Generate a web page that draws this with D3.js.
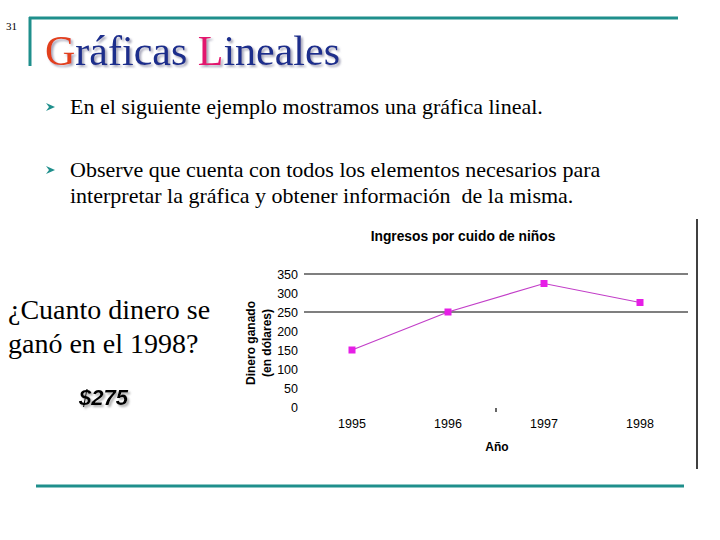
<!DOCTYPE html>
<html>
<head>
<meta charset="utf-8">
<script src="https://cdn.jsdelivr.net/npm/d3@7"></script>
<style>
  body { margin: 0; background: #fff; }
  svg { display: block; }
</style>
</head>
<body>
<script>
// chart data
const years = ["1995", "1996", "1997", "1998"];
const dinero = [150, 250, 325, 275];
const yTicks = [0, 50, 100, 150, 200, 250, 300, 350];
const gridValues = [250, 350];

const svg = d3.select("body").append("svg")
    .attr("width", 720).attr("height", 540);

//drop shadows for the title and the answer
const defs = svg.append("defs");
defs.append("filter").attr("id", "shadowTitle").attr("x", "-5%").attr("y", "-20%")
    .attr("width", "120%").attr("height", "150%")
    .append("feDropShadow").attr("dx", 2).attr("dy", 2).attr("stdDeviation", 0.8)
    .attr("flood-color", "#9090a8").attr("flood-opacity", 0.8);
defs.append("filter").attr("id", "shadowAns").attr("x", "-10%").attr("y", "-20%")
    .attr("width", "130%").attr("height", "160%")
    .append("feDropShadow").attr("dx", 2).attr("dy", 2).attr("stdDeviation", 1)
    .attr("flood-color", "#888").attr("flood-opacity", 0.7);

//slide frame lines (teal)
const teal = "#1f8f8c";
svg.append("line").attr("x1", 29).attr("x2", 678).attr("y1", 18).attr("y2", 18)
    .attr("stroke", teal).attr("stroke-width", 3);
svg.append("line").attr("x1", 30).attr("x2", 30).attr("y1", 17).attr("y2", 66)
    .attr("stroke", teal).attr("stroke-width", 3);
svg.append("line").attr("x1", 36).attr("x2", 684).attr("y1", 486).attr("y2", 486)
    .attr("stroke", teal).attr("stroke-width", 3);

const serif = "Liberation Serif";
svg.append("text").attr("x", 6).attr("y", 30)
    .attr("font-family", serif).attr("font-size", 11)
    .text("31");

//slide title
const title = [["G", "#e2401e"], ["ráficas ", "#1b2d8c"], ["L", "#e2186e"], ["ineales", "#1b2d8c"]];
const t = svg.append("text").attr("x", 45).attr("y", 65)
    .attr("font-family", serif).attr("font-size", 42)
    .attr("filter", "url(#shadowTitle)");
title.forEach(function(p){
    t.append("tspan").attr("fill", p[1]).text(p[0]);
});

//bullets
function arrow(x, y){
    svg.append("path")
        .attr("d", "M" + x + "," + (y - 4) + " L" + (x + 9) + "," + y + " L" + x + "," + (y + 4) +
              " L" + (x + 3) + "," + y + " Z")
        .attr("fill", teal);
}
arrow(46, 107);
svg.append("text").attr("x", 70).attr("y", 114).attr("font-family", serif).attr("font-size", 22)
    .text("En el siguiente ejemplo mostramos una gráfica lineal.");
arrow(46, 170);
svg.append("text").attr("x", 70).attr("y", 177).attr("font-family", serif).attr("font-size", 22)
    .text("Observe que cuenta con todos los elementos necesarios para");
svg.append("text").attr("x", 70).attr("y", 203).attr("font-family", serif).attr("font-size", 22)
    .attr("xml:space", "preserve")
    .text("interpretar la gráfica y obtener información  de la misma.");

//question on the left
svg.append("text").attr("x", 8).attr("y", 319).attr("font-family", serif).attr("font-size", 28)
    .text("¿Cuanto dinero se");
svg.append("text").attr("x", 8).attr("y", 353).attr("font-family", serif).attr("font-size", 28)
    .text("ganó en el 1998?");
svg.append("text").attr("x", 79).attr("y", 405).attr("font-family", "Liberation Sans")
    .attr("font-size", 22).attr("font-weight", "bold").attr("font-style", "italic")
    .attr("filter", "url(#shadowAns)").text("$275");

//the chart itself
const x = d3.scaleBand().domain(years).range([304, 688]);
const y = d3.scaleLinear().domain([0, 350]).range([407, 274]);

svg.append("line").attr("x1", 697).attr("x2", 697).attr("y1", 219).attr("y2", 469)
    .attr("stroke", "#000").attr("stroke-width", 1.5);

svg.append("g").selectAll("line").data(gridValues).enter().append("line")
    .attr("x1", 304).attr("x2", 688)
    .attr("y1", function(d){ return y(d); }).attr("y2", function(d){ return y(d); })
    .attr("stroke", "#000").attr("stroke-width", 1.2);

const yAxis = svg.append("g").attr("transform", "translate(304,0)")
    .call(d3.axisLeft(y).tickValues(yTicks).tickSize(0).tickPadding(6));
yAxis.select(".domain").remove();

const xAxis = svg.append("g").attr("transform", "translate(0,407)")
    .call(d3.axisBottom(x).tickSize(0).tickPadding(12));
xAxis.select(".domain").remove();

[yAxis, xAxis].forEach(function(a){
    a.selectAll("text").attr("font-family", "Liberation Sans").attr("font-size", 12.5).attr("fill", "#000");
});

//stray tick mark in the middle of the category axis
svg.append("line").attr("x1", x("1997")).attr("x2", x("1997")).attr("y1", 408).attr("y2", 412)
    .attr("stroke", "#000").attr("stroke-width", 1.2);

const cx = function(d, i){ return x(years[i]) + x.bandwidth() / 2; };
const line = d3.line().x(cx).y(function(d){ return y(d); });
svg.append("path").datum(dinero).attr("d", line)
    .attr("fill", "none").attr("stroke", "#c23ec8").attr("stroke-width", 1.2);
svg.append("g").selectAll("rect").data(dinero).enter().append("rect")
    .attr("x", function(d, i){ return cx(d, i) - 3.5; })
    .attr("y", function(d){ return y(d) - 3.5; })
    .attr("width", 7).attr("height", 7).attr("fill", "#e61ee6");

svg.append("text").attr("x", 463).attr("y", 241).attr("text-anchor", "middle")
    .attr("font-family", "Liberation Sans").attr("font-size", 13.8).attr("font-weight", "bold")
    .text("Ingresos por cuido de niños");
svg.append("text").attr("x", 497).attr("y", 451).attr("text-anchor", "middle")
    .attr("font-family", "Liberation Sans").attr("font-size", 12).attr("font-weight", "bold")
    .text("Año");
svg.append("text").attr("transform", "translate(251,343) rotate(-90)").attr("text-anchor", "middle")
    .attr("font-family", "Liberation Sans").attr("font-size", 12).attr("font-weight", "bold")
    .attr("dy", "0.35em").text("Dinero ganado");
svg.append("text").attr("transform", "translate(267,343) rotate(-90)").attr("text-anchor", "middle")
    .attr("font-family", "Liberation Sans").attr("font-size", 12).attr("font-weight", "bold")
    .attr("dy", "0.35em").text("(en dólares)");
</script>
</body>
</html>
